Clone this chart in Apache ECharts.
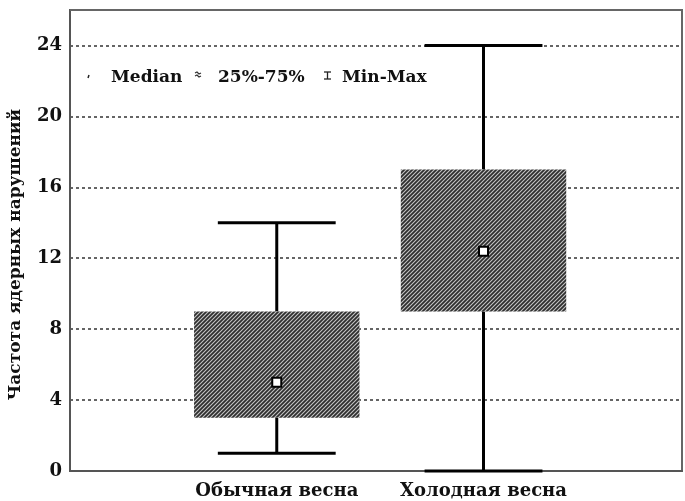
<!DOCTYPE html>
<html>
<head>
<meta charset="utf-8">
<script src="https://cdn.jsdelivr.net/npm/echarts@6/dist/echarts.min.js"></script>
<style>
  html, body { margin: 0; padding: 0; background: #fff; }
  #chart { width: 685px; height: 501px; }
</style>
</head>
<body>
<div id="chart"></div>
<script>
// Groups and their box-plot statistics
const categories = ['Обычная весна', 'Холодная весна'];
const minValues = [1, 0];
const q1Values = [3, 9];
const medianValues = [5, 12.4];
const q3Values = [9, 17];
const maxValues = [14, 24];
const yTicks = [0, 4, 8, 12, 16, 20, 24];
const legendNames = ['Median', '25%-75%', 'Min-Max'];

const FONT = '"DejaVu Serif", "Liberation Serif", serif';
const GRID = { left: 70, top: 10, right: 3, bottom: 30 };

// Diagonal hatch tile used to fill the boxes
function hatchTile() {
  const n = 4;
  const c = document.createElement('canvas');
  c.width = n; c.height = n;
  const g = c.getContext('2d');
  g.fillStyle = '#2e2e2e';
  g.fillRect(0, 0, n, n);
  g.strokeStyle = '#c4c4c4';
  g.lineWidth = 1.1;
  g.beginPath();
  g.moveTo(0, n); g.lineTo(n, 0);
  g.moveTo(-1, 1); g.lineTo(1, -1);
  g.moveTo(n - 1, n + 1); g.lineTo(n + 1, n - 1);
  g.stroke();
  return c;
}
const hatch = { image: hatchTile(), repeat: 'repeat' };

const seriesData = categories.map((name, i) => [
  i + 1, minValues[i], q1Values[i], medianValues[i], q3Values[i], maxValues[i]
]);

function renderBox(params, api) {
  const x = api.value(0);
  const pMin = api.coord([x, api.value(1)]);
  const pQ1 = api.coord([x, api.value(2)]);
  const pMed = api.coord([x, api.value(3)]);
  const pQ3 = api.coord([x, api.value(4)]);
  const pMax = api.coord([x, api.value(5)]);
  const unit = api.size([1, 0])[0];
  const boxW = unit * 0.80;
  const capW = unit * 0.57;
  const cx = pMin[0];
  const lineStyle = { stroke: '#000', lineWidth: 3, fill: null };
  return {
    type: 'group',
    children: [
      { type: 'line', shape: { x1: cx, y1: pMin[1], x2: cx, y2: pQ1[1] }, style: lineStyle },
      { type: 'line', shape: { x1: cx, y1: pQ3[1], x2: cx, y2: pMax[1] }, style: lineStyle },
      { type: 'line', shape: { x1: cx - capW / 2, y1: pMin[1], x2: cx + capW / 2, y2: pMin[1] }, style: lineStyle },
      { type: 'line', shape: { x1: cx - capW / 2, y1: pMax[1], x2: cx + capW / 2, y2: pMax[1] }, style: lineStyle },
      {
        type: 'rect',
        shape: { x: cx - boxW / 2, y: pQ3[1], width: boxW, height: pQ1[1] - pQ3[1] },
        style: { fill: hatch, stroke: null }
      },
      {
        type: 'rect',
        shape: { x: cx - 4.5, y: pMed[1] - 4.5, width: 9, height: 9 },
        style: { fill: '#fff', stroke: '#000', lineWidth: 2 }
      }
    ]
  };
}

// Legend glyphs and labels
const legendY = 80;
const legendText = { fontFamily: FONT, fontWeight: 'bold', fontSize: 17, fill: '#111', verticalAlign: 'middle' };
const graphics = [
  // top frame edge drawn over the split line at the axis maximum
  { type: 'line', z: 10, shape: { x1: GRID.left, y1: GRID.top, x2: 685 - GRID.right, y2: GRID.top }, style: { stroke: '#666', lineWidth: 2 } },
  { type: 'line', shape: { x1: 89, y1: 75, x2: 88, y2: 78 }, style: { stroke: '#222', lineWidth: 1.5 } },
  { type: 'text', left: 111, top: legendY - 11, style: Object.assign({ text: legendNames[0] }, legendText) },
  { type: 'polyline', shape: { points: [[195, 73], [197, 72], [199, 74], [201, 73]] }, style: { stroke: '#333', lineWidth: 1.2, fill: null } },
  { type: 'polyline', shape: { points: [[195, 76], [197, 75], [199, 77], [201, 76]] }, style: { stroke: '#333', lineWidth: 1.2, fill: null } },
  { type: 'text', left: 218, top: legendY - 11, style: Object.assign({ text: legendNames[1] }, legendText) },
  { type: 'line', shape: { x1: 324, y1: 72, x2: 331, y2: 72 }, style: { stroke: '#222', lineWidth: 1.3 } },
  { type: 'line', shape: { x1: 327.5, y1: 72, x2: 327.5, y2: 79 }, style: { stroke: '#222', lineWidth: 1.3 } },
  { type: 'line', shape: { x1: 324, y1: 79, x2: 331, y2: 79 }, style: { stroke: '#222', lineWidth: 1.3 } },
  { type: 'text', left: 342, top: legendY - 11, style: Object.assign({ text: legendNames[2] }, legendText) }
];

const chart = echarts.init(document.getElementById('chart'));
chart.setOption({
  animation: false,
  backgroundColor: '#fff',
  grid: Object.assign({
    outerBoundsMode: 'none',
    containLabel: false,
    show: true, borderColor: '#666', borderWidth: 2, backgroundColor: 'transparent'
  }, GRID),
  xAxis: {
    type: 'value',
    min: 0, max: 2.96, interval: 1,
    axisLine: { show: true, lineStyle: { color: '#555', width: 2 } },
    axisTick: { show: false },
    splitLine: { show: false },
    axisLabel: {
      showMaxLabel: false,
      margin: 11,
      fontFamily: FONT, fontWeight: 'bold', fontSize: 18, color: '#111',
      formatter: v => (Number.isInteger(v) && v >= 1 && v <= categories.length) ? categories[v - 1] : ''
    }
  },
  yAxis: {
    type: 'value',
    min: yTicks[0], max: 26, interval: 4,
    name: 'Частота ядерных нарушений',
    nameLocation: 'middle',
    nameGap: 46,
    nameRotate: 90,
    nameTextStyle: { fontFamily: FONT, fontWeight: 'bold', fontSize: 17, color: '#111', padding: [0, 28, 0, 0] },
    axisLine: { show: true, lineStyle: { color: '#555', width: 2 } },
    axisTick: { show: false },
    axisLabel: {
      showMaxLabel: false,
      margin: 8,
      fontFamily: FONT, fontWeight: 'bold', fontSize: 18, color: '#111',
      formatter: v => (yTicks.indexOf(v) >= 0 ? String(v) : '')
    },
    splitLine: {
      show: true,
      lineStyle: { color: '#333', width: 1.5, type: [3, 3] }
    }
  },
  graphic: graphics,
  series: [{
    type: 'custom',
    renderItem: renderBox,
    data: seriesData,
    encode: { x: 0, y: [1, 2, 3, 4, 5] },
    clip: false
  }]
});
</script>
</body>
</html>
